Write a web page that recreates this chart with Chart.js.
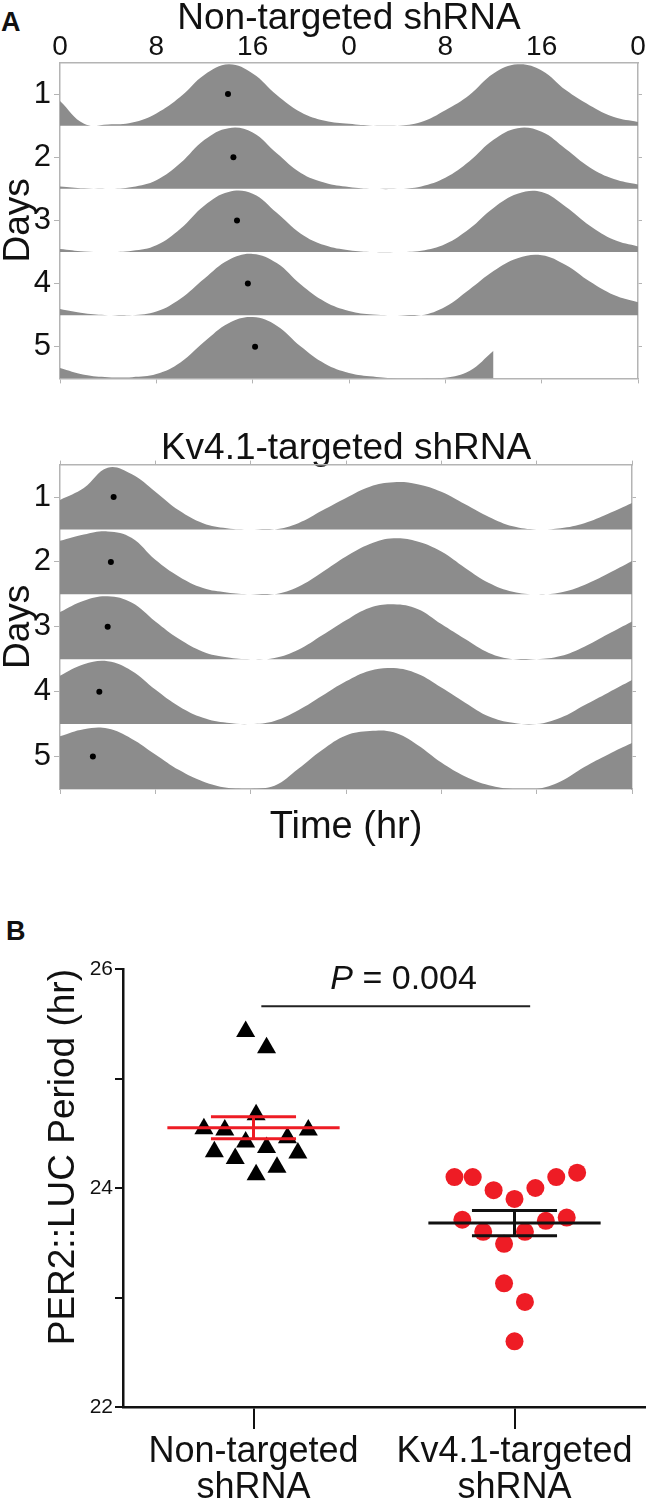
<!DOCTYPE html>
<html>
<head>
<meta charset="utf-8">
<script src="https://cdn.jsdelivr.net/npm/chart.js@4.4.1/dist/chart.umd.min.js"></script>
<style>
  body { margin: 0; background: #fff; width: 656px; height: 1512px; position: relative; overflow: hidden; font-family: 'Liberation Sans', Arial, sans-serif; }
  canvas { position: absolute; left: 0; }
  .panel { position: absolute; font-weight: bold; font-size: 27px; line-height: 27px; color: #111; }
</style>
</head>
<body>
<div class="panel" style="left:1px;top:9px">A</div>
<div class="panel" style="left:6px;top:918px">B</div>
<canvas id="ntChart" width="656" height="400" style="top:0"></canvas>
<canvas id="kvChart" width="656" height="440" style="top:420px"></canvas>
<canvas id="periodChart" width="656" height="612" style="top:900px"></canvas>
<script>
// actogram samples, every 2 h over a double-plotted 48 h window (fraction of row height)
const hours = [0,2,4,6,8,10,12,14,16,18,20,22,24,26,28,30,32,34,36,38,40,42,44,46,48];
const hourTicks = ['0','8','16','0','8','16','0'];
const dayLabels = ['1','2','3','4','5'];

const ntRow1 = [0.40,0.03,0.02,0.05,0.20,0.47,0.83,1.00,0.85,0.50,0.22,0.08,0.03,0.00,0.00,0.06,0.25,0.50,0.85,1.00,0.90,0.58,0.33,0.14,0.06];
const ntRow2 = [0.04,0.01,0.00,0.03,0.14,0.42,0.80,0.99,0.92,0.58,0.26,0.10,0.03,0.00,0.00,0.04,0.18,0.45,0.80,0.99,0.93,0.65,0.35,0.16,0.07];
const ntRow3 = [0.05,0.01,0.00,0.02,0.11,0.38,0.76,0.98,0.95,0.64,0.30,0.11,0.03,0.00,0.00,0.02,0.13,0.38,0.72,0.95,0.98,0.74,0.43,0.20,0.09];
const ntRow4 = [0.10,0.03,0.00,0.00,0.06,0.27,0.60,0.90,1.00,0.85,0.50,0.22,0.07,0.01,0.00,0.00,0.14,0.42,0.72,0.93,0.98,0.82,0.55,0.33,0.21];
const ntRow5 = [0.17,0.06,0.02,0.02,0.07,0.26,0.60,0.90,1.00,0.86,0.52,0.24,0.09,0.03,0.00,0.00,0.01,0.12,0.45,null,null,null,null,null,null];
const ntPhase = [13.95, 14.4, 14.7, 15.6, 16.2];

const kvRow1 = [0.47,0.66,0.98,0.88,0.60,0.30,0.10,0.02,0.00,0.00,0.10,0.30,0.50,0.68,0.75,0.72,0.60,0.40,0.20,0.05,0.00,0.02,0.10,0.25,0.42];
const kvRow2 = [0.85,0.95,1.00,0.90,0.55,0.28,0.10,0.03,0.00,0.00,0.12,0.35,0.60,0.80,0.89,0.84,0.68,0.42,0.18,0.04,0.00,0.03,0.15,0.33,0.53];
const kvRow3 = [0.75,0.93,1.00,0.90,0.60,0.32,0.12,0.03,0.00,0.02,0.15,0.38,0.62,0.82,0.875,0.80,0.56,0.32,0.10,0.00,0.00,0.05,0.20,0.40,0.60];
const kvRow4 = [0.77,0.95,1.00,0.85,0.55,0.28,0.10,0.02,0.00,0.05,0.22,0.45,0.68,0.85,0.89,0.80,0.58,0.34,0.12,0.02,0.00,0.10,0.30,0.50,0.70];
const kvRow5 = [0.84,0.95,0.96,0.80,0.55,0.30,0.12,0.02,0.00,0.05,0.32,0.62,0.85,0.92,0.90,0.70,0.42,0.20,0.06,0.00,0.00,0.12,0.35,0.55,0.73];
const kvPhase = [4.5, 4.27, 4.0, 3.3, 2.76];

// panel B: period per culture (hr) and horizontal scatter offset around the group
const groupLabels = [['Non-targeted', 'shRNA'], ['Kv4.1-targeted', 'shRNA']];
const ntPeriods = [25.43,25.28,24.67,24.54,24.53,24.53,24.42,24.46,24.33,24.37,24.32,24.27,24.19,24.12];
const ntJitter  = [-0.03,0.05,0.01,-0.19,-0.11,0.21,-0.03,0.13,-0.15,0.05,0.17,-0.07,0.09,0.01];
const kvPeriods = [24.10,24.10,23.98,23.90,24.00,24.10,24.14,23.71,23.70,23.73,23.60,23.60,23.49,23.13,22.96,22.60];
const kvJitter  = [0.77,0.84,0.92,1.00,1.08,1.16,1.24,0.80,1.12,1.20,0.88,1.04,0.96,0.96,1.04,1.00];
const ntMean = 24.55, ntSem = 0.10;
const kvMean = 23.68, kvSem = 0.115;
const pValue = '0.004';

const font = "'Liberation Sans', Arial, sans-serif";
const fillGrey = '#8c8c8c';
const axisGrey = '#b4b4b4';
const ink = '#111';
const dotRed = '#ee1c25';
Chart.defaults.font.family = font;
Chart.defaults.color = ink;

function rowDatasets(rows, phases) {
  const n = rows.length;
  const sets = [{
    data: phases.map((h, i) => ({x: h, y: n - i - 0.5})),
    showLine: false, pointRadius: 3, pointBackgroundColor: '#000', pointBorderWidth: 0
  }];
  rows.forEach((vals, i) => {
    const base = n - 1 - i;
    sets.push({
      data: hours.map((h, j) => ({x: h, y: vals[j] === null ? null : base + vals[j] * 0.97})),
      fill: {value: base}, backgroundColor: fillGrey, borderWidth: 0, pointRadius: 0,
      tension: 0.4
    });
  });
  return sets;
}

function dayTicks(s) {
  s.ticks = dayLabels.map((d, i) => ({value: dayLabels.length - i - 0.5}));
}

function actogram(id, o) {
  new Chart(document.getElementById(id), {
    type: 'line',
    data: {datasets: rowDatasets(o.rows, o.phases)},
    options: {
      animation: false, responsive: false,
      layout: {padding: 0},
      plugins: {
        legend: {display: false}, tooltip: {enabled: false},
        title: {display: true, text: o.title, fullSize: false, color: ink,
                font: {size: 37, weight: 'normal', lineHeight: o.titleLH}, padding: {top: o.titlePad, bottom: 0}}
      },
      scales: {
        x: {
          type: 'linear', position: 'top', min: 0, max: 48,
          afterFit: s => { s.height = o.topH; },
          ticks: {display: o.hourLabels, stepSize: 8, autoSkip: false, maxRotation: 0, padding: 1,
                  callback: (v, i) => hourTicks[i], font: {size: 28, lineHeight: 1}},
          grid: {drawOnChartArea: false, tickLength: o.hourLabels ? 0 : 4, color: axisGrey},
          border: {color: axisGrey, width: 1.5}
        },
        x2: {
          type: 'linear', position: 'bottom', min: 0, max: 48,
          afterFit: s => { s.height = o.bottomH; },
          ticks: {display: false, stepSize: 8},
          grid: {drawOnChartArea: false, tickLength: 5, color: axisGrey},
          border: {color: axisGrey, width: 1.5},
          title: {display: !!o.xTitle, text: o.xTitle || '', font: {size: 38, lineHeight: 1.2}, padding: {top: 0, bottom: 10}}
        },
        y: {
          min: 0, max: 5,
          afterFit: s => { s.width = 60; },
          afterBuildTicks: dayTicks,
          ticks: {callback: v => dayLabels[Math.round(dayLabels.length - 0.5 - v)], font: {size: 31}, padding: 3},
          grid: {drawOnChartArea: false, tickLength: 6, color: axisGrey},
          border: {color: axisGrey, width: 1.5},
          title: {display: true, text: 'Days', font: {size: 37, lineHeight: 1}, padding: 0}
        },
        y2: {
          position: 'right', min: 0, max: 5,
          afterFit: s => { s.width = o.rightW; },
          afterBuildTicks: dayTicks,
          ticks: {display: false},
          grid: {drawOnChartArea: false, tickLength: 4, color: axisGrey},
          border: {color: axisGrey, width: 1.5}
        }
      }
    }
  });
}

actogram('ntChart', {
  title: 'Non-targeted shRNA', rows: [ntRow1, ntRow2, ntRow3, ntRow4, ntRow5], phases: ntPhase,
  titleLH: 0.85, titlePad: 3, topH: 28, bottomH: 17, rightW: 18, hourLabels: true
});
actogram('kvChart', {
  title: 'Kv4.1-targeted shRNA', rows: [kvRow1, kvRow2, kvRow3, kvRow4, kvRow5], phases: kvPhase,
  titleLH: 0.8, titlePad: 14, topH: 1, bottomH: 71, rightW: 24, hourLabels: false, xTitle: 'Time (hr)'
});

// panel B
const meanHalf = 0.33, semHalf = 0.163;
const sigFrom = 0.03, sigTo = 1.06, sigLevel = 25.66;
const pTextX = 0.575, pTextY = 25.9;

function errorBar(mean, sem, c, color) {
  return {
    showLine: true, borderColor: color, borderWidth: 3, pointRadius: 0, spanGaps: false,
    data: [
      {x: c - meanHalf, y: mean}, {x: c + meanHalf, y: mean}, {x: c, y: null},
      {x: c - semHalf, y: mean + sem}, {x: c + semHalf, y: mean + sem}, {x: c, y: null},
      {x: c - semHalf, y: mean - sem}, {x: c + semHalf, y: mean - sem}, {x: c, y: null},
      {x: c, y: mean + sem}, {x: c, y: mean - sem}
    ]
  };
}

const pLabel = {
  id: 'pLabel',
  afterDatasetsDraw(chart) {
    const {ctx, scales: {x, y}} = chart;
    const cx = x.getPixelForValue(pTextX), cy = y.getPixelForValue(pTextY);
    const rest = ' = ' + pValue;
    ctx.save();
    ctx.fillStyle = ink;
    ctx.textBaseline = 'middle';
    ctx.font = 'italic 34px ' + font;
    const w1 = ctx.measureText('P').width;
    ctx.font = '34px ' + font;
    const w2 = ctx.measureText(rest).width;
    const sx = cx - (w1 + w2) / 2;
    ctx.font = 'italic 34px ' + font;
    ctx.fillText('P', sx, cy);
    ctx.font = '34px ' + font;
    ctx.fillText(rest, sx + w1, cy);
    ctx.restore();
  }
};

new Chart(document.getElementById('periodChart'), {
  type: 'scatter',
  data: {
    datasets: [
      errorBar(ntMean, ntSem, 0, dotRed),
      errorBar(kvMean, kvSem, 1, ink),
      {data: [{x: sigFrom, y: sigLevel}, {x: sigTo, y: sigLevel}], showLine: true,
       borderColor: '#222', borderWidth: 2, pointRadius: 0},
      {data: ntPeriods.map((p, i) => ({x: ntJitter[i], y: p})),
       pointStyle: 'triangle', pointRadius: 11, backgroundColor: '#000', borderWidth: 0},
      {data: kvPeriods.map((p, i) => ({x: kvJitter[i], y: p})),
       pointStyle: 'circle', pointRadius: 9, backgroundColor: dotRed, borderWidth: 0}
    ]
  },
  options: {
    animation: false, responsive: false,
    layout: {padding: {top: 69, right: 4, left: 0, bottom: 0}},
    plugins: {legend: {display: false}, tooltip: {enabled: false}},
    scales: {
      x: {
        type: 'linear', min: -0.5, max: 1.5,
        afterFit: s => { s.height = 105; },
        afterBuildTicks: s => { s.ticks = groupLabels.map((g, i) => ({value: i})); },
        ticks: {callback: v => groupLabels[v], font: {size: 36, lineHeight: 1}, padding: 5, maxRotation: 0, autoSkip: false},
        grid: {drawOnChartArea: false, tickLength: 22, color: ink, lineWidth: 2},
        border: {color: ink, width: 2.5}
      },
      y: {
        min: 22, max: 26,
        afterFit: s => { s.width = 123; },
        ticks: {stepSize: 1, callback: v => (v % 2 === 0 ? String(v) : ''), font: {size: 21}, padding: 2},
        grid: {drawOnChartArea: false, tickLength: 8, color: ink, lineWidth: 2},
        border: {color: ink, width: 2.5},
        title: {display: true, text: 'PER2::LUC Period (hr)', align: 'end',
                font: {size: 37, lineHeight: 1}, padding: {top: 45, bottom: 0}}
      }
    }
  },
  plugins: [pLabel]
});
</script>
</body>
</html>
